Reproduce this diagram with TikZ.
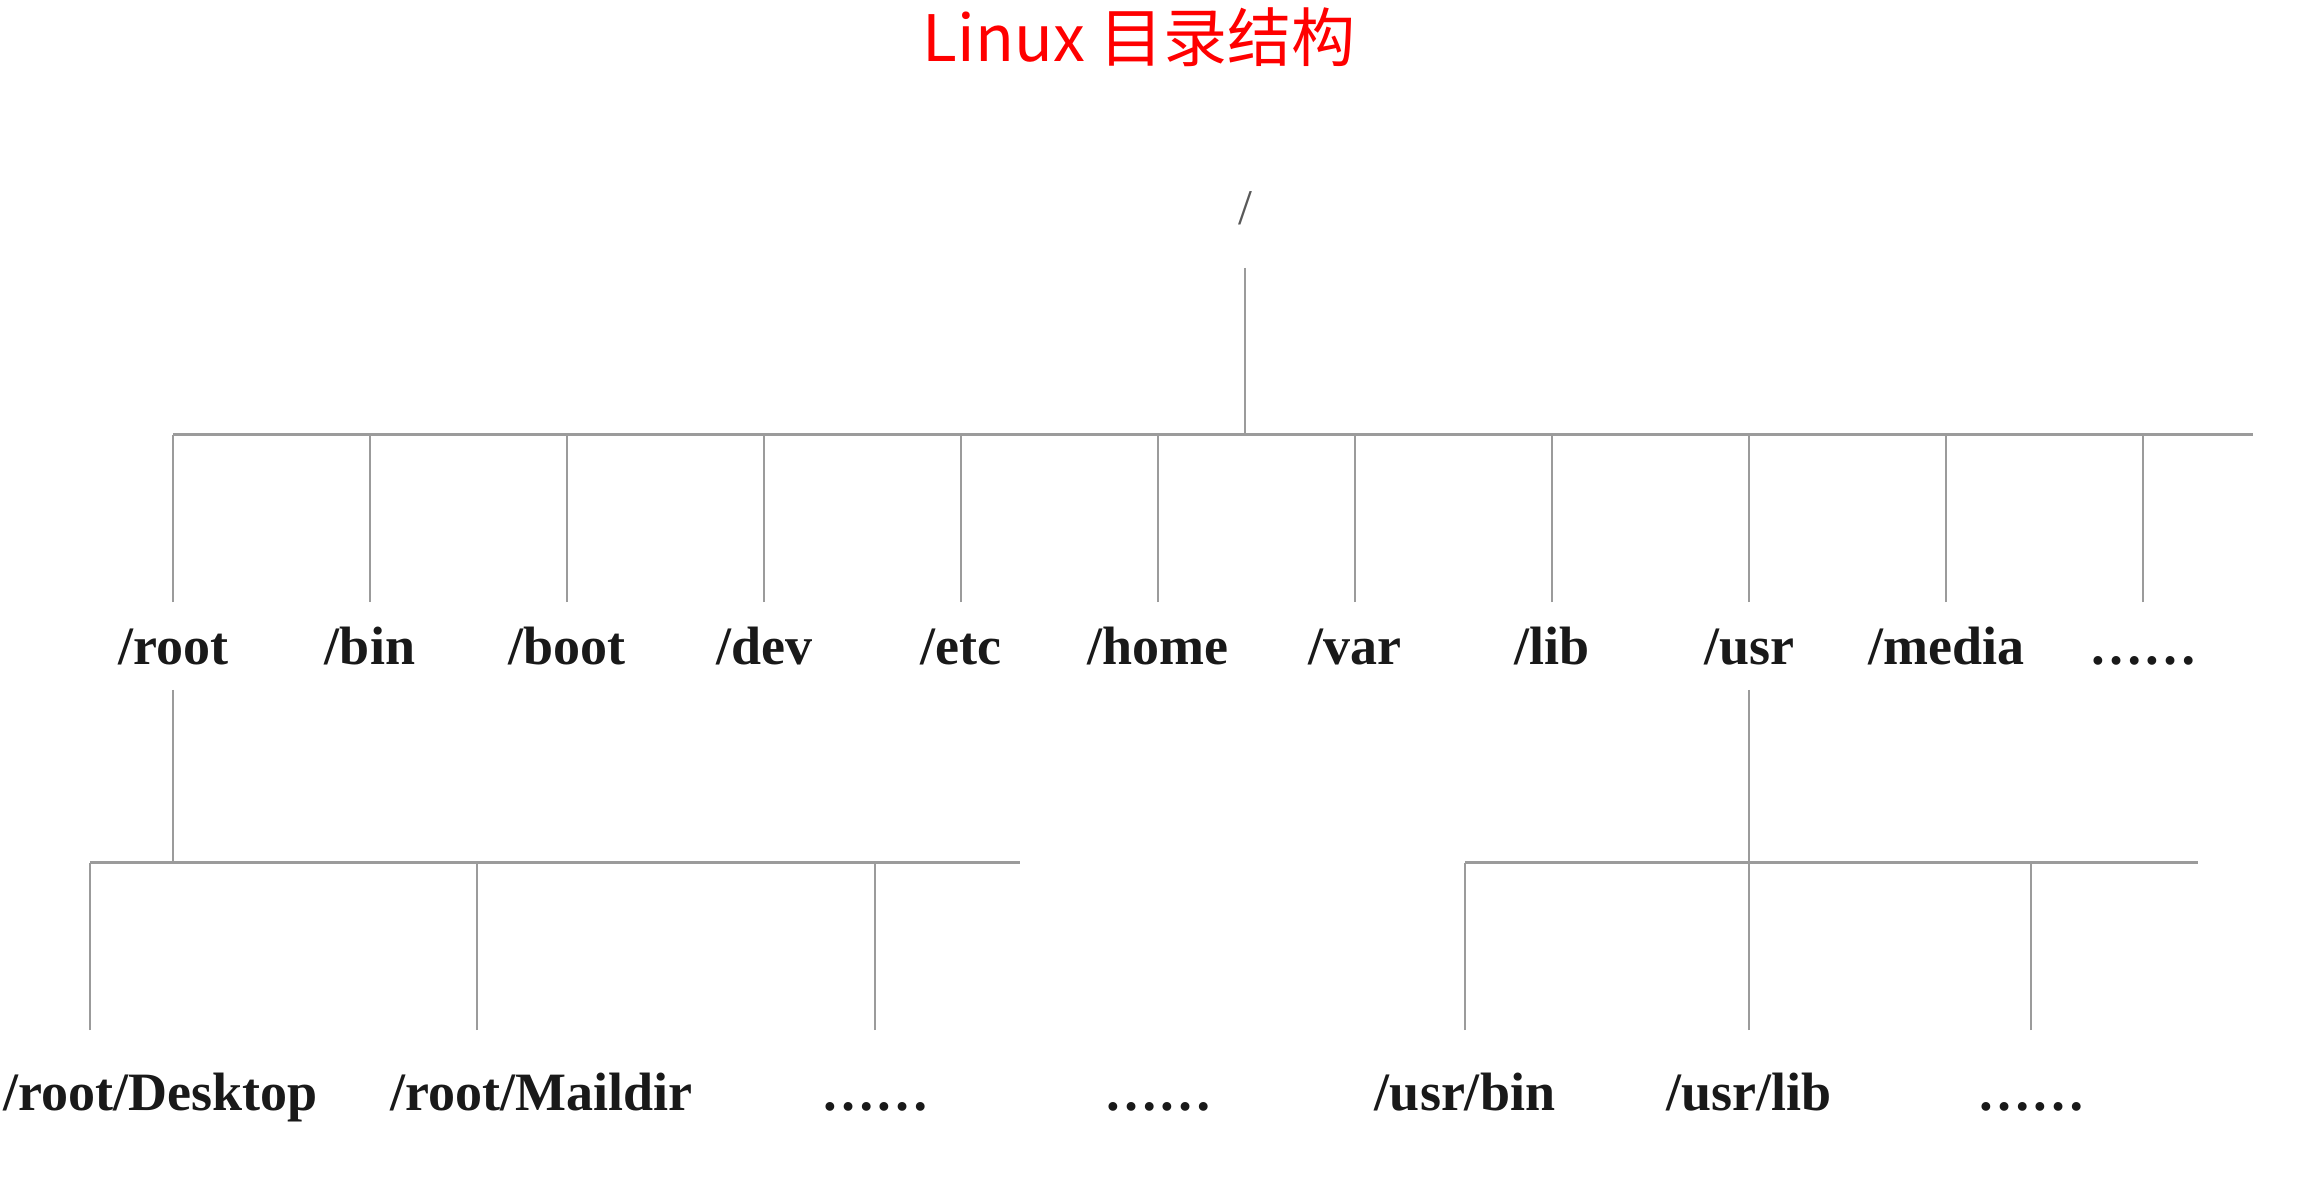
\documentclass[tikz,border=0pt]{standalone}
\usepackage{fontspec}
\setmainfont{Liberation Serif}
\newfontfamily\cjkfont{Noto Sans CJK SC}
\usepackage{color}
\usepackage{tikz}
\usetikzlibrary{positioning}
\definecolor{linegray}{RGB}{155,155,155}
\definecolor{titlered}{RGB}{255,0,0}
\tikzstyle{bus} = [draw=linegray, line width=0.75pt]
\tikzstyle{branch} = [draw=linegray, line width=0.5pt]
\tikzstyle{dir} = [font=\fontsize{13.5}{16}\selectfont\bfseries, text=black!90, text height=9.5pt, text depth=0pt, inner xsep=0pt, inner ysep=6pt]
\tikzstyle{leaf} = [dir, inner ysep=10.5pt]

\begin{document}
\begin{tikzpicture}[x=0.25pt, y=-0.25pt, node distance=49.25pt]
        \useasboundingbox (0,0) rectangle (2302,1184);

        % Title
        \node[anchor=base, text=titlered, font=\cjkfont\fontsize{16}{20}\selectfont] (title) at (1139,62) {Linux 目录结构};

        % Root
        \node[anchor=base, text=black!65, font=\fontsize{12.5}{15}\selectfont, text depth=0pt, inner ysep=10.5pt] (top) at (1245,225) {/};

        % First level
        \node[dir, anchor=base] (troot) at (173,665) {/root};
        \node[dir, right of=troot] (tbin) {/bin};
        \node[dir, right of=tbin] (tboot) {/boot};
        \node[dir, right of=tboot] (tdev) {/dev};
        \node[dir, right of=tdev] (tetc) {/etc};
        \node[dir, right of=tetc] (thome) {/home};
        \node[dir, right of=thome] (tvar) {/var};
        \node[dir, right of=tvar] (tlib) {/lib};
        \node[dir, right of=tlib] (tusr) {/usr};
        \node[dir, right of=tusr] (tmedia) {/media};
        \node[dir, right of=tmedia] (tmore) {……};

        % Below /root
        \node[leaf, anchor=base west] (desk) at (3,1111) {/root/Desktop};
        \node[leaf, anchor=base west] (mail) at (390,1111) {/root/Maildir};
        \node[leaf, anchor=base] (rdots) at (875,1111) {……};
        \node[leaf, anchor=base] (rmore) at (1158,1111) {……};

        % Below /usr
        \node[leaf, anchor=base] (ubin) at (1465,1111) {/usr/bin};
        \node[leaf, right of=ubin, node distance=71pt] (ulib) {/usr/lib};
        \node[leaf, right of=ulib, node distance=70.5pt] (udots) {……};

        % Bus ends
        \coordinate (busend) at (2253,435);
        \coordinate (lbusend) at (1020,863);
        \coordinate (rbusend) at (2198,863);
        \coordinate (desktip) at ([xshift=21.75pt]desk.north west);
        \coordinate (mailtip) at ([xshift=21.75pt]mail.north west);

        % Lines, first level
        \draw[bus] (troot.north |- busend) -- (busend);
        \draw[branch] (top.south) -- (top.south |- busend);
        \draw[branch] (troot.north) -- (troot.north |- busend);
        \draw[branch] (tbin.north) -- (tbin.north |- busend);
        \draw[branch] (tboot.north) -- (tboot.north |- busend);
        \draw[branch] (tdev.north) -- (tdev.north |- busend);
        \draw[branch] (tetc.north) -- (tetc.north |- busend);
        \draw[branch] (thome.north) -- (thome.north |- busend);
        \draw[branch] (tvar.north) -- (tvar.north |- busend);
        \draw[branch] (tlib.north) -- (tlib.north |- busend);
        \draw[branch] (tusr.north) -- (tusr.north |- busend);
        \draw[branch] (tmedia.north) -- (tmedia.north |- busend);
        \draw[branch] (tmore.north) -- (tmore.north |- busend);

        % Lines, /root
        \draw[branch] (troot.south) -- (troot.south |- lbusend);
        \draw[bus] (desktip |- lbusend) -- (lbusend);
        \draw[branch] (desktip) -- (desktip |- lbusend);
        \draw[branch] (mailtip) -- (mailtip |- lbusend);
        \draw[branch] (rdots.north) -- (rdots.north |- lbusend);

        % Lines, /usr
        \draw[branch] (tusr.south) -- (tusr.south |- rbusend);
        \draw[bus] (ubin.north |- rbusend) -- (rbusend);
        \draw[branch] (ubin.north) -- (ubin.north |- rbusend);
        \draw[branch] (ulib.north) -- (ulib.north |- rbusend);
        \draw[branch] (udots.north) -- (udots.north |- rbusend);

    \end{tikzpicture}
\end{document}
